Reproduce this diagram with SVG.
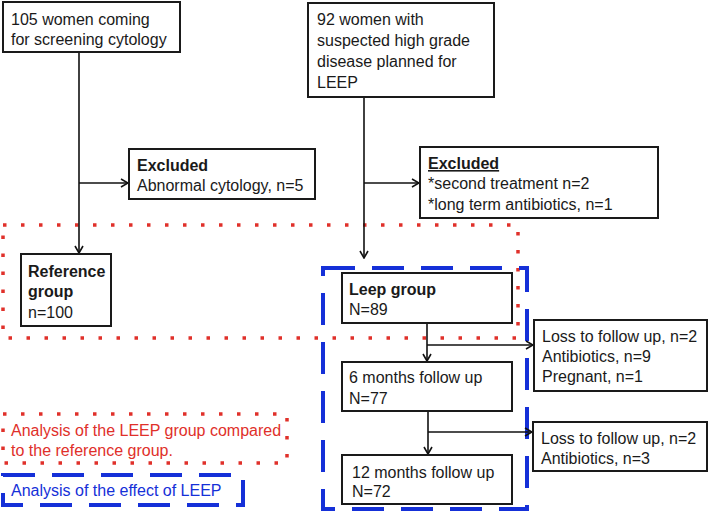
<svg xmlns="http://www.w3.org/2000/svg" width="709" height="515" viewBox="0 0 709 515">
<style>
.box{fill:#fff;stroke:#1a1a1a;stroke-width:2}
.t{font-family:"Liberation Sans",Arial,sans-serif;font-size:16px;fill:#1a1a1a}
.b{font-weight:bold}
.c{fill:none;stroke:#111;stroke-width:1.6}
.red{fill:none;stroke:#e0302a;stroke-width:3.5;stroke-dasharray:3.5 14.5}
.blue{fill:none;stroke:#1530d8;stroke-width:4;stroke-dasharray:32 17}
</style>
<defs>
<marker id="arr" viewBox="0 0 10 10" refX="9" refY="5" markerWidth="10" markerHeight="10" markerUnits="userSpaceOnUse" orient="auto">
<path d="M2,1 L9,5 L2,9" fill="none" stroke="#111" stroke-width="1.6"/>
</marker>
</defs>
<g id="regions">
<rect class="red" x="3" y="225" width="515" height="113"/>
<rect class="blue" x="323" y="268" width="204" height="241"/>
</g>
<g id="connectors">
<line class="c" x1="79" y1="52" x2="79" y2="253" marker-end="url(#arr)"/>
<line class="c" x1="79" y1="183" x2="128" y2="183" marker-end="url(#arr)"/>
<line class="c" x1="364" y1="97" x2="364" y2="258" marker-end="url(#arr)"/>
<line class="c" x1="364" y1="183" x2="419" y2="183" marker-end="url(#arr)"/>
<line class="c" x1="427" y1="323" x2="427" y2="361" marker-end="url(#arr)"/>
<line class="c" x1="427" y1="345" x2="533" y2="345" marker-end="url(#arr)"/>
<line class="c" x1="428" y1="411" x2="428" y2="454" marker-end="url(#arr)"/>
<line class="c" x1="428" y1="432" x2="532" y2="432" marker-end="url(#arr)"/>
</g>
<g id="screening">
<rect class="box" x="3" y="2" width="177" height="50"/>
<text class="t" x="11" y="25">105 women coming</text>
<text class="t" x="11" y="45">for screening cytology</text>
</g>
<g id="excluded1">
<rect class="box" x="129" y="149" width="186" height="50"/>
<text class="t b" x="137" y="171">Excluded</text>
<text class="t" x="137" y="191">Abnormal cytology, n=5</text>
</g>
<g id="leep-planned">
<rect class="box" x="308" y="3" width="186" height="94"/>
<text class="t" x="317" y="25">92 women with</text>
<text class="t" x="317" y="46">suspected high grade</text>
<text class="t" x="317" y="67">disease planned for</text>
<text class="t" x="317" y="88">LEEP</text>
</g>
<g id="excluded2">
<rect class="box" x="420" y="147" width="238" height="71"/>
<text class="t b" x="428" y="169" text-decoration="underline">Excluded</text>
<text class="t" x="428" y="189">*second treatment n=2</text>
<text class="t" x="428" y="210">*long term antibiotics, n=1</text>
</g>
<g id="reference">
<rect class="box" x="21" y="254" width="90" height="72"/>
<text class="t b" x="28" y="277">Reference</text>
<text class="t b" x="28" y="297">group</text>
<text class="t" x="28" y="318">n=100</text>
</g>
<g id="leep-group">
<rect class="box" x="342" y="273" width="170" height="50"/>
<text class="t b" x="349" y="295">Leep group</text>
<text class="t" x="349" y="315">N=89</text>
</g>
<g id="loss1">
<rect class="box" x="534" y="320" width="173" height="71"/>
<text class="t" x="542" y="342">Loss to follow up, n=2</text>
<text class="t" x="542" y="362">Antibiotics, n=9</text>
<text class="t" x="542" y="382">Pregnant, n=1</text>
</g>
<g id="six-months">
<rect class="box" x="342" y="362" width="170" height="49"/>
<text class="t" x="349" y="383">6 months follow up</text>
<text class="t" x="349" y="404">N=77</text>
</g>
<g id="loss2">
<rect class="box" x="533" y="422" width="174" height="49"/>
<text class="t" x="541" y="444">Loss to follow up, n=2</text>
<text class="t" x="541" y="464">Antibiotics, n=3</text>
</g>
<g id="twelve-months">
<rect class="box" x="342" y="455" width="170" height="49"/>
<text class="t" x="352" y="478">12 months follow up</text>
<text class="t" x="352" y="497">N=72</text>
</g>
<g id="legend-red">
<rect class="red" x="3" y="414" width="284" height="49"/>
<text class="t" x="11" y="436" fill="#e0302a" style="fill:#e0302a">Analysis of the LEEP group compared</text>
<text class="t" x="11" y="456" style="fill:#e0302a">to the reference group.</text>
</g>
<g id="legend-blue">
<rect class="blue" x="3" y="475" width="240" height="30"/>
<text class="t" x="11" y="496" style="fill:#1530d8">Analysis of the effect of LEEP</text>
</g>
</svg>
